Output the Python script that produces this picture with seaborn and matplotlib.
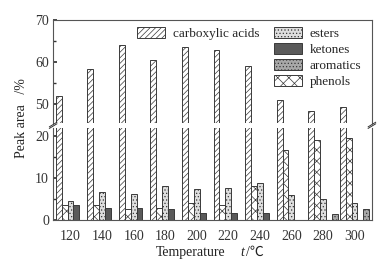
import numpy as np
import pandas as pd
import matplotlib
matplotlib.use('Agg')
import matplotlib.pyplot as plt
from matplotlib.patches import Patch
import seaborn as sns

sns.set_theme(style='white')
plt.rcParams['font.family'] = ['Liberation Serif', 'Noto Sans CJK SC', 'DejaVu Sans']
plt.rcParams['hatch.linewidth'] = 0.5

# 数据
temps = ['120', '140', '160', '180', '200', '220', '240', '260', '280', '300']
acids = [51.9, 58.3, 64.0, 60.6, 63.5, 62.9, 59.0, 51.0, 48.4, 49.2]
phenols = [3.6, 3.6, 2.7, 2.8, 4.0, 3.6, 8.0, 16.8, 19.1, 19.7]
esters = [4.6, 6.6, 6.1, 8.2, 7.5, 7.7, 8.9, 6.0, 5.1, 4.1]
ketones = [3.6, 2.9, 2.9, 2.6, 1.7, 1.7, 1.7, 0, 0, 0]
aromatics = [0, 0, 0, 0, 0, 0, 0, 0, 1.4, 2.7]

series = ['carboxylic acids', 'phenols', 'esters', 'ketones', 'aromatics']
values = [acids, phenols, esters, ketones, aromatics]

STYLE = {
    'carboxylic acids': dict(facecolor='white', hatch='//////'),
    'phenols': dict(facecolor='white', hatch='xxx'),
    'esters': dict(facecolor='#dedede', hatch='.....'),
    'ketones': dict(facecolor='#5a5a5a', hatch=''),
    'aromatics': dict(facecolor='#a8a8a8', hatch='.....'),
}
EDGE = '#3a3a3a'

df = pd.DataFrame([(t, s, v) for s, vals in zip(series, values)
                   for t, v in zip(temps, vals)],
                  columns=['temp', 'kind', 'value'])

fig = plt.figure(figsize=(3.85, 2.6), dpi=100)
ax_top = fig.add_axes([0.138, 0.527, 0.828, 0.396])
ax_bot = fig.add_axes([0.138, 0.154, 0.828, 0.354])

for ax in (ax_top, ax_bot):
    sns.barplot(data=df, x='temp', y='value', hue='kind', hue_order=series,
                order=temps, width=0.93, legend=False, ax=ax)
    for kind, cont in zip(series, ax.containers):
        for bar in cont:
            bar.set_facecolor(STYLE[kind]['facecolor'])
            bar.set_hatch(STYLE[kind]['hatch'])
            bar.set_edgecolor(EDGE)
            bar.set_linewidth(0.7)
    ax.set_xlabel('')
    ax.set_ylabel('')
    for sp in ax.spines.values():
        sp.set_color('#555555')
        sp.set_linewidth(0.8)
    ax.tick_params(axis='y', which='both', direction='in', left=True,
                   labelsize=10, colors='#333333', pad=3)
    ax.tick_params(axis='y', which='major', length=3)
    ax.tick_params(axis='y', which='minor', length=1.8)
    ax.set_xlim(-0.55, len(temps) - 0.45)

ax_top.set_ylim(45.5, 70)
ax_top.set_yticks([50, 60, 70])
ax_top.set_yticks([55, 65], minor=True)
ax_top.spines['bottom'].set_visible(False)
ax_top.tick_params(axis='x', bottom=False, labelbottom=False)

ax_bot.set_ylim(0, 22)
ax_bot.set_yticks([0, 10, 20])
ax_bot.set_yticks([5, 15], minor=True)
ax_bot.spines['top'].set_visible(False)
ax_bot.tick_params(axis='x', bottom=False, labelsize=10, colors='#333333', pad=1)

# 断轴标记
d = 0.010
for x in (0, 1):
    kw = dict(transform=fig.transFigure, color='#333333', lw=0.7, clip_on=False)
    xf = 0.138 + 0.828 * x
    fig.add_artist(plt.Line2D([xf - d, xf + d], [0.506, 0.524], **kw))
    fig.add_artist(plt.Line2D([xf - d, xf + d], [0.512, 0.530], **kw))

# 图例
def handle(kind):
    return Patch(facecolor=STYLE[kind]['facecolor'], hatch=STYLE[kind]['hatch'],
                 edgecolor=EDGE, linewidth=0.7, label=kind)

leg_kw = dict(loc='upper left', frameon=False, fontsize=9.5, handlelength=2.15,
              handleheight=0.95, handletextpad=0.55, labelspacing=0.22,
              borderpad=0.0, borderaxespad=0.0)
leg1 = ax_top.legend(handles=[handle('carboxylic acids')],
                     bbox_to_anchor=(0.263, 0.935), **leg_kw)
ax_top.add_artist(leg1)
ax_top.legend(handles=[handle(k) for k in ['esters', 'ketones', 'aromatics', 'phenols']],
              bbox_to_anchor=(0.693, 0.935), **leg_kw)

# 坐标轴标题
fig.text(0.055, 0.545, 'Peak area   /%', rotation=90, ha='center', va='center',
         fontsize=10, color='#222222')
fig.text(0.496, 0.03, 'Temperature', ha='center', va='center', fontsize=10,
         color='#222222')
fig.text(0.629, 0.03, 't', ha='center', va='center', fontsize=10,
         style='italic', color='#222222')
fig.text(0.662, 0.03, '/℃', ha='center', va='center', fontsize=10,
         color='#222222')

fig.savefig('out.png', dpi=100)
